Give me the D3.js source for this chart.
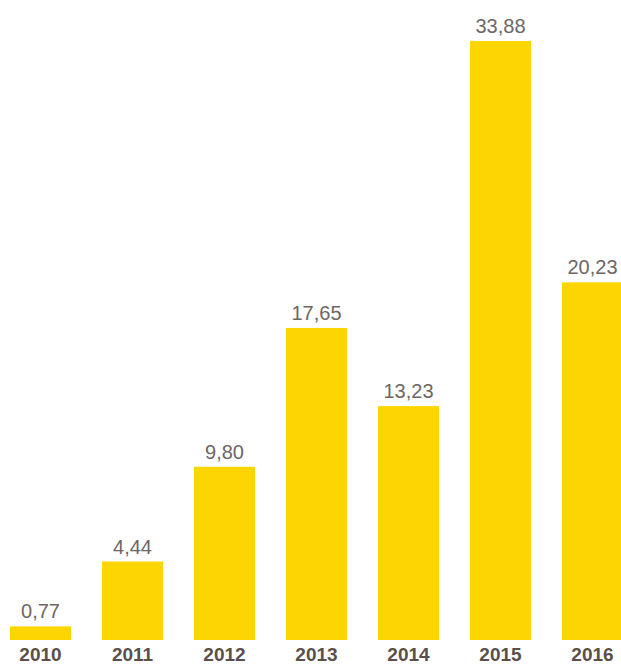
<!DOCTYPE html>
<html>
<head>
<meta charset="utf-8">
<script src="https://cdn.jsdelivr.net/npm/d3@7"></script>
<style>
  body { margin: 0; background: #fff; }
  svg { display: block; }
</style>
</head>
<body>
<svg></svg>
<script>
var WIDTH = 621;
var HEIGHT = 665;

//chart data
var years = ["2010", "2011", "2012", "2013", "2014", "2015", "2016"];
var values = [0.77, 4.44, 9.80, 17.65, 13.23, 33.88, 20.23];

var BASELINE = 640;
var TOP = 41;

var svg = d3.select("svg").attr("width", WIDTH).attr("height", HEIGHT);

//scales
var x = d3.scaleBand()
  .domain(years)
  .range([10, 623])
  .paddingInner(0.337)
  .paddingOuter(0);

var y = d3.scaleLinear()
  .domain([0, d3.max(values)])
  .range([BASELINE, TOP]);

var fmt = function (v) { return d3.format(".2f")(v).replace(".", ","); };

var data = years.map(function (yr, i) { return { year: yr, value: values[i] }; });

//bars
svg.append("g")
  .selectAll("rect")
  .data(data)
  .enter()
  .append("rect")
  .attr("x", function (d) { return x(d.year); })
  .attr("y", function (d) { return y(d.value); })
  .attr("width", x.bandwidth())
  .attr("height", function (d) { return BASELINE - y(d.value); })
  .style("fill", "#fdd500");

//value labels
svg.append("g")
  .selectAll("text")
  .data(data)
  .enter()
  .append("text")
  .attr("x", function (d) { return x(d.year) + x.bandwidth() / 2; })
  .attr("y", function (d) { return y(d.value) - 8; })
  .attr("text-anchor", "middle")
  .style("font-family", "'Liberation Sans', Arial, sans-serif")
  .style("font-size", "20px")
  .style("fill", "#6e6664")
  .text(function (d) { return fmt(d.value); });

//year axis
var axis = svg.append("g")
  .attr("transform", "translate(0," + BASELINE + ")")
  .call(d3.axisBottom(x).tickSize(0).tickPadding(0));

axis.select(".domain").remove();
axis.selectAll("text")
  .attr("dy", null)
  .attr("y", 21)
  .style("font-family", "'Liberation Sans', Arial, sans-serif")
  .style("font-size", "19px")
  .style("font-weight", "bold")
  .style("fill", "#5b4f4c");
</script>
</body>
</html>
